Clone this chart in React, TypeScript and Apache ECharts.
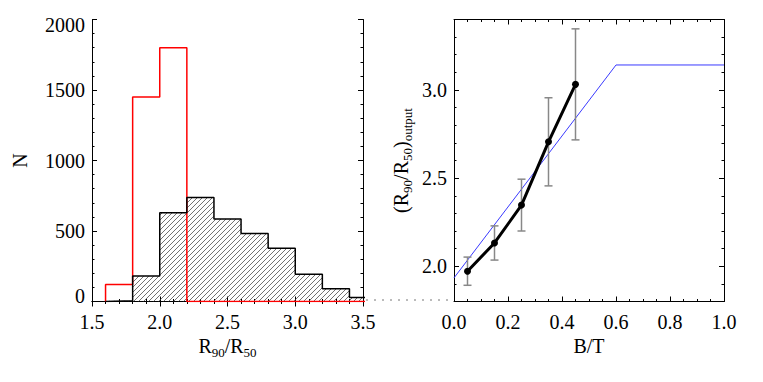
import React, { useEffect, useRef } from "react";
import * as echarts from "echarts";

// ---- Left panel: histograms of R90/R50 ----
const histEdges = [1.6, 1.8, 2.0, 2.2, 2.4, 2.6, 2.8, 3.0, 3.2, 3.4, 3.6];
const blackCounts = [5, 180, 630, 738, 585, 483, 377, 193, 90, 28];
const redCounts = [120, 1450, 1800, 0, 0, 0, 0, 0, 0, 0];
const leftYMin = 0;
const leftYMax = 2000;

// ---- Right panel: concentration vs B/T ----
const btValues = [0.05, 0.15, 0.25, 0.35, 0.45];
const concValues = [1.972, 2.132, 2.347, 2.706, 3.032];
const concErrors = [0.08, 0.097, 0.147, 0.25, 0.315];
const modelBT = [0.0, 0.6, 1.0];
const modelConc = [1.934, 3.142, 3.142];
const rightYMajorTicks = [2.0, 2.5, 3.0];
const rightYMinorTicks = [1.8, 1.9, 2.0, 2.1, 2.2, 2.3, 2.4, 2.5, 2.6, 2.7, 2.8, 2.9, 3.0, 3.1, 3.2, 3.3, 3.4];

const FONT = "Liberation Serif";
const HATCH = 5;

function stepPoints(edges: number[], counts: number[]) {
  const pts: number[][] = [[edges[0], 0]];
  for (let i = 0; i < counts.length; i++) {
    pts.push([edges[i], counts[i]]);
    pts.push([edges[i + 1], counts[i]]);
  }
  return pts;
}

const subRich = {
  m: { fontSize: 20, fontFamily: FONT, color: "#000", lineHeight: 23, verticalAlign: "top" },
  s: { fontSize: 13, fontFamily: FONT, color: "#000", lineHeight: 13, verticalAlign: "bottom" },
};

const tickRich = {
  t: { fontFamily: FONT, fontSize: 20, color: "#000" },
  lo: { fontFamily: FONT, fontSize: 20, color: "#000", padding: [0, 0, 12, 0] },
  hi: { fontFamily: FONT, fontSize: 20, color: "#000", padding: [10, 0, 0, 0] },
};

const tickCommon = (show: boolean) => ({
  axisLine: { show: true, lineStyle: { color: "#000", width: 1 } },
  axisTick: { show, inside: true, length: 5, lineStyle: { color: "#000", width: 1 } },
  splitLine: { show: false },
});

export default function App() {
  const ref = useRef<HTMLDivElement>(null);
  useEffect(() => {
    document.body.style.margin = "0";
    const chart = echarts.init(ref.current!, undefined, { renderer: "svg" });
    const minor = (n: number) => ({ show: true, splitNumber: n, length: 2.5, lineStyle: { color: "#000", width: 1 } });
    const fmt1 = (v: number) => `{t|${v.toFixed(1)}}`;
    const fmtN = (v: number) =>
      v === leftYMin ? `{lo|${v}}` : v === leftYMax ? `{hi|${v}}` : `{t|${v}}`;

    const hatchData = blackCounts.map((c, i) => [histEdges[i], histEdges[i + 1], c]);
    const errData = btValues.map((x, i) => [x, concValues[i], concErrors[i]]);

    const option: any = {
      animation: false,
      backgroundColor: "#fff",
      textStyle: { fontFamily: FONT, fontSize: 20, color: "#000" },
      grid: [
        { left: 92, top: 19.5, width: 271, height: 282 },
        { left: 454, top: 19.5, width: 270, height: 282 },
      ],
      xAxis: [
        {
          gridIndex: 0, type: "value", position: "bottom", min: 1.5, max: 3.5, interval: 0.5,
          ...tickCommon(true), minorTick: minor(5),
          axisLabel: { margin: 10, formatter: fmt1, rich: tickRich },
          name: "{m|R}{s|90}{m|/R}{s|50}", nameLocation: "middle", nameGap: 30,
          nameTextStyle: { rich: subRich },
        },
        {
          gridIndex: 0, type: "value", position: "top", min: 1.5, max: 3.5, interval: 0.5,
          ...tickCommon(true), minorTick: minor(5), axisLabel: { show: false },
        },
        {
          gridIndex: 1, type: "value", position: "bottom", min: 0, max: 1, interval: 0.2,
          ...tickCommon(true), minorTick: minor(4),
          axisLabel: { margin: 10, formatter: fmt1, rich: tickRich },
          name: "B/T", nameLocation: "middle", nameGap: 33,
          nameTextStyle: { fontFamily: FONT, fontSize: 20, color: "#000" },
        },
        {
          gridIndex: 1, type: "value", position: "top", min: 0, max: 1, interval: 0.2,
          ...tickCommon(true), minorTick: minor(4), axisLabel: { show: false },
        },
      ],
      yAxis: [
        {
          gridIndex: 0, type: "value", position: "left", min: leftYMin, max: leftYMax, interval: 500,
          ...tickCommon(true), minorTick: minor(5),
          axisLabel: { margin: 7, formatter: fmtN, rich: tickRich },
          name: "N", nameLocation: "middle", nameGap: 62,
          nameTextStyle: { fontFamily: FONT, fontSize: 20, color: "#000" },
        },
        {
          gridIndex: 0, type: "value", position: "right", min: leftYMin, max: leftYMax, interval: 500,
          ...tickCommon(true), minorTick: minor(5), axisLabel: { show: false },
        },
        {
          gridIndex: 1, type: "value", position: "left", min: 1.8, max: 3.4,
          ...tickCommon(true),
          axisTick: { show: true, inside: true, length: 5, customValues: rightYMajorTicks, lineStyle: { color: "#000" } },
          axisLabel: { margin: 7, customValues: rightYMajorTicks, formatter: fmt1, rich: tickRich },
          name: "{m|(R}{s|90}{m|/R}{s|50}{m|)}{s|output}", nameLocation: "middle", nameGap: 40,
          nameTextStyle: { rich: subRich },
        },
        {
          gridIndex: 1, type: "value", position: "left", min: 1.8, max: 3.4,
          axisLine: { show: false }, splitLine: { show: false }, axisLabel: { show: false },
          axisTick: { show: true, inside: true, length: 2.5, customValues: rightYMinorTicks, lineStyle: { color: "#000" } },
        },
        {
          gridIndex: 1, type: "value", position: "right", min: 1.8, max: 3.4,
          ...tickCommon(true),
          axisTick: { show: true, inside: true, length: 5, customValues: rightYMajorTicks, lineStyle: { color: "#000" } },
          axisLabel: { show: false },
        },
        {
          gridIndex: 1, type: "value", position: "right", min: 1.8, max: 3.4,
          axisLine: { show: false }, splitLine: { show: false }, axisLabel: { show: false },
          axisTick: { show: true, inside: true, length: 2.5, customValues: rightYMinorTicks, lineStyle: { color: "#000" } },
        },
      ],
      series: [
        {
          type: "custom", xAxisIndex: 0, yAxisIndex: 0, data: hatchData, encode: { x: [0, 1], y: 2 }, z: 1,
          renderItem: (params: any, api: any) => {
            const p0 = api.coord([api.value(0), 0]);
            const p1 = api.coord([api.value(1), api.value(2)]);
            const cs = params.coordSys;
            const left = Math.max(p0[0], cs.x);
            const right = Math.min(p1[0], cs.x + cs.width);
            const top = p1[1];
            const bottom = p0[1];
            const children: any[] = [];
            const k0 = Math.ceil((left + top) / HATCH);
            const k1 = Math.floor((right + bottom) / HATCH);
            for (let k = k0; k <= k1; k++) {
              const c = k * HATCH;
              const xa = Math.max(left, c - bottom);
              const xb = Math.min(right, c - top);
              if (xb > xa) {
                children.push({
                  type: "line",
                  shape: { x1: xa, y1: c - xa, x2: xb, y2: c - xb },
                  style: { stroke: "#333", lineWidth: 0.7 },
                });
              }
            }
            return { type: "group", children };
          },
        },
        {
          type: "line", xAxisIndex: 0, yAxisIndex: 0, data: stepPoints(histEdges, redCounts),
          symbol: "none", lineStyle: { color: "#ff0000", width: 1.5 }, z: 3,
        },
        {
          type: "line", xAxisIndex: 0, yAxisIndex: 0, data: stepPoints(histEdges, blackCounts),
          symbol: "none", lineStyle: { color: "#000", width: 1.5 }, z: 4,
        },
        {
          type: "line", xAxisIndex: 2, yAxisIndex: 2, data: modelBT.map((x, i) => [x, modelConc[i]]),
          symbol: "none", lineStyle: { color: "#3a3aff", width: 1 }, z: 2,
        },
        {
          type: "custom", xAxisIndex: 2, yAxisIndex: 2, data: errData, encode: { x: 0, y: 1 }, z: 3,
          renderItem: (params: any, api: any) => {
            const x = api.value(0), y = api.value(1), e = api.value(2);
            const lo = api.coord([x, y - e]);
            const hi = api.coord([x, y + e]);
            const st = { stroke: "#888", lineWidth: 1.5 };
            return {
              type: "group",
              children: [
                { type: "line", shape: { x1: lo[0], y1: lo[1], x2: hi[0], y2: hi[1] }, style: st },
                { type: "line", shape: { x1: lo[0] - 4, y1: lo[1], x2: lo[0] + 4, y2: lo[1] }, style: st },
                { type: "line", shape: { x1: hi[0] - 4, y1: hi[1], x2: hi[0] + 4, y2: hi[1] }, style: st },
              ],
            };
          },
        },
        {
          type: "line", xAxisIndex: 2, yAxisIndex: 2, data: btValues.map((x, i) => [x, concValues[i]]),
          symbol: "circle", symbolSize: 7, itemStyle: { color: "#000" },
          lineStyle: { color: "#000", width: 3 }, z: 4,
        },
      ],
      graphic: [
        {
          type: "line", shape: { x1: 366, y1: 300, x2: 448, y2: 300 },
          style: { stroke: "#777", lineWidth: 1, lineDash: [2, 6] },
        },
      ],
    };
    chart.setOption(option);
    return () => chart.dispose();
  }, []);
  return <div ref={ref} style={{ width: 763, height: 382 }} />;
}
